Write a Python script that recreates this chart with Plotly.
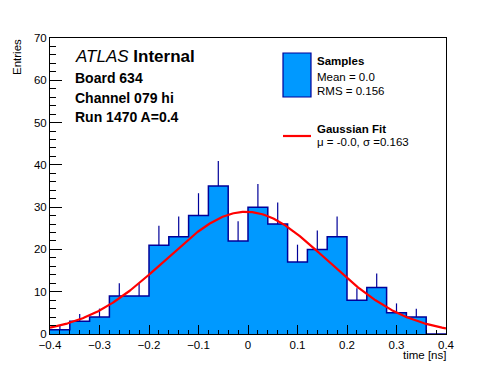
import numpy as np
import plotly.graph_objects as go

# ---- data ----
bin_edges_lo = [-0.40, -0.36, -0.32, -0.28, -0.24, -0.20, -0.16, -0.12, -0.08, -0.04,
                0.00, 0.04, 0.08, 0.12, 0.16, 0.20, 0.24, 0.28, 0.32, 0.36]
bin_width = 0.04
counts = [1, 3, 4, 9, 9, 21, 23, 28, 35, 22,
          30, 26, 17, 20, 23, 8, 11, 5, 4, 0]
fit_amp = 28.9
fit_mu = -0.004
fit_sigma = 0.163
x_ticks = [-0.4, -0.3, -0.2, -0.1, 0.0, 0.1, 0.2, 0.3, 0.4]
y_ticks = [0, 10, 20, 30, 40, 50, 60, 70]

# page is shown with an 8px body margin; compensate
OFF = 8
W, H = 496 - OFF, 372 - OFF
L, R, T, B = 50, 446, 38, 334   # frame in page pixels

def px(x):
    return (x - L) / (R - L)

def py(y):
    return (B - y) / (B - T)

FILL = "#0099ff"
EDGE = "#000099"
FONT = "Liberation Sans, Arial, Helvetica, sans-serif"

edges = np.array(bin_edges_lo)
vals = np.array(counts, dtype=float)
step_x = list(edges) + [edges[-1] + bin_width]
step_y = list(vals) + [vals[-1]]
centers = edges + bin_width / 2
errs = np.sqrt(vals)

fx = np.linspace(-0.4, 0.4, 400)
fy = fit_amp * np.exp(-0.5 * ((fx - fit_mu) / fit_sigma) ** 2)

fig = go.Figure()
fig.add_trace(go.Scatter(x=step_x, y=step_y, mode="lines", line_shape="hv",
                         fill="tozeroy", fillcolor=FILL,
                         line=dict(color=EDGE, width=1.5), hoverinfo="skip"))
fig.add_trace(go.Scatter(x=centers, y=vals, mode="markers",
                         marker=dict(size=1, color="rgba(0,0,0,0)"),
                         error_y=dict(type="data", symmetric=False, array=errs,
                                      arrayminus=[0] * len(errs), width=0,
                                      thickness=1.2, color=EDGE),
                         hoverinfo="skip"))
fig.add_trace(go.Scatter(x=fx, y=fy, mode="lines",
                         line=dict(color="#ff0000", width=2.2), hoverinfo="skip"))

fig.update_xaxes(range=[-0.4, 0.4], tickmode="array", tickvals=x_ticks,
                 ticktext=[("\u2212" if v < 0 else "") + ("0" if v == 0 else f"{abs(v):.1f}") for v in x_ticks],
                 ticks="inside", ticklen=9, tickcolor="black", tickwidth=1,
                 minor=dict(dtick=0.02, tick0=0, ticks="inside", ticklen=4.5, tickcolor="black"),
                 showline=True, linecolor="black", linewidth=1, mirror=True,
                 showgrid=False, zeroline=False,
                 tickfont=dict(family=FONT, size=11.5, color="black"))
fig.update_yaxes(range=[0, 70], tickmode="array", tickvals=y_ticks,
                 ticks="inside", ticklen=12, tickcolor="black", tickwidth=1,
                 minor=dict(dtick=2, tick0=0, ticks="inside", ticklen=6, tickcolor="black"),
                 showline=True, linecolor="black", linewidth=1, mirror=True,
                 showgrid=False, zeroline=False,
                 tickfont=dict(family=FONT, size=11.5, color="black"))

ann = []
def text(x, y, s, size, anchor="left", **kw):
    ann.append(dict(x=px(x), y=py(y), xref="paper", yref="paper", text=s,
                    showarrow=False, xanchor=anchor, yanchor="middle",
                    font=dict(family=FONT, size=size, color="black"), **kw))

text(73, 57, "<i>ATLAS</i> <b>Internal</b>", 17)
text(73, 78, "<b>Board 634</b>", 14)
text(73, 98, "<b>Channel 079 hi</b>", 14)
text(73, 117, "<b>Run 1470 A=0.4</b>", 14)

text(315, 61, "<b>Samples</b>", 11.5)
text(315, 77, "Mean = 0.0", 11.5)
text(315, 91, "RMS = 0.156", 11.5)
text(315, 129, "<b>Gaussian Fit</b>", 11.5)
text(315, 142, "\u03bc = -0.0, \u03c3 =0.163", 11.5)

text(448, 355, "time [ns]", 11.5, anchor="right")
ann.append(dict(x=px(17), y=py(37), xref="paper", yref="paper", text="Entries",
                showarrow=False, xanchor="center", yanchor="top", textangle=-90,
                font=dict(family=FONT, size=11.5, color="black")))

shapes = [
    dict(type="rect", xref="paper", yref="paper", x0=px(283), x1=px(311),
         y0=py(97), y1=py(53), fillcolor=FILL, line=dict(color=EDGE, width=1.2)),
    dict(type="line", xref="paper", yref="paper", x0=px(283), x1=px(311),
         y0=py(136), y1=py(136), line=dict(color="#ff0000", width=2.2)),
]

fig.update_layout(width=W, height=H, showlegend=False,
                  margin=dict(l=L - OFF, r=496 - R, t=T - OFF, b=372 - B, pad=0),
                  paper_bgcolor="white", plot_bgcolor="white",
                  annotations=ann, shapes=shapes)
fig.write_html("out.html")
